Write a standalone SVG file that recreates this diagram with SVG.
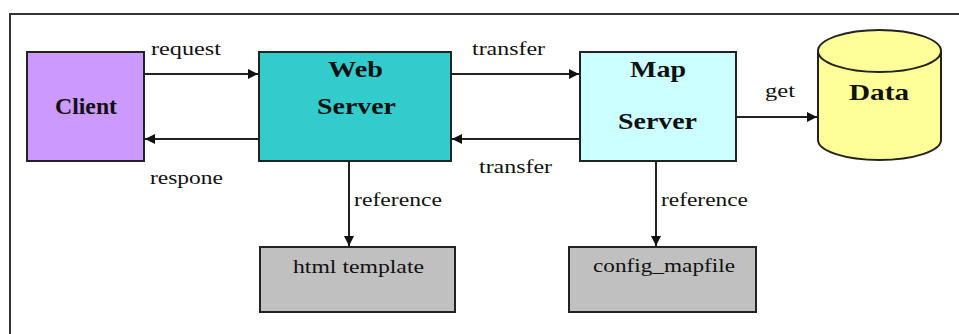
<svg xmlns="http://www.w3.org/2000/svg" width="959" height="334" viewBox="0 0 959 334">
<style>
.box{stroke:#222;stroke-width:2}
.lbl{font-family:"Liberation Serif","DejaVu Serif",serif;font-size:18px;fill:#111}
.title{font-family:"Liberation Serif","DejaVu Serif",serif;font-size:24px;font-weight:bold;fill:#111}
.edge{stroke:#222;stroke-width:2;fill:none}
</style>
<defs>
<marker id="arr" viewBox="0 0 10 10" refX="10" refY="5" markerWidth="10" markerHeight="10" markerUnits="userSpaceOnUse" orient="auto">
<path d="M0,0 L10,5 L0,10 z" fill="#111"/>
</marker>
</defs>
<rect width="959" height="334" fill="#fff"/>
<path d="M10,340 L10,14 L965,14" stroke="#333" stroke-width="2" fill="none"/>
<g id="client">
<rect class="box" x="27" y="52" width="117" height="109" fill="#CC99FF"/>
<text class="title" x="55" y="114" textLength="62" lengthAdjust="spacingAndGlyphs">Client</text>
</g>
<g id="webserver">
<rect class="box" x="259" y="52" width="192" height="109" fill="#33CCCC"/>
<text class="title" x="328" y="77" textLength="55" lengthAdjust="spacingAndGlyphs">Web</text>
<text class="title" x="317" y="114" textLength="79" lengthAdjust="spacingAndGlyphs">Server</text>
</g>
<g id="mapserver">
<rect class="box" x="580" y="52" width="156" height="109" fill="#CCFFFF"/>
<text class="title" x="630" y="77" textLength="56" lengthAdjust="spacingAndGlyphs">Map</text>
<text class="title" x="618" y="129" textLength="79" lengthAdjust="spacingAndGlyphs">Server</text>
</g>
<g id="data">
<path class="box" d="M818,51 L818,140 A61.5,20 0 0 0 941,140 L941,51 A61.5,21 0 0 0 818,51 Z" fill="#FFFF99"/>
<path class="box" d="M818,51 A61.5,21 0 0 0 941,51" fill="none" stroke-width="1.5"/>
<text class="title" x="849" y="100" textLength="60" lengthAdjust="spacingAndGlyphs">Data</text>
</g>
<g id="htmltemplate">
<rect class="box" x="260" y="247" width="195" height="65" fill="#C0C0C0"/>
<text class="lbl" x="293" y="273" textLength="131" lengthAdjust="spacingAndGlyphs">html template</text>
</g>
<g id="configmapfile">
<rect class="box" x="569" y="247" width="187" height="65" fill="#C0C0C0"/>
<text class="lbl" x="593" y="272" textLength="142" lengthAdjust="spacingAndGlyphs">config_mapfile</text>
</g>
<g id="connectors">
<line class="edge" x1="145" y1="74" x2="258" y2="74" marker-end="url(#arr)"/>
<line class="edge" x1="258" y1="139" x2="145" y2="139" marker-end="url(#arr)"/>
<line class="edge" x1="452" y1="74" x2="579" y2="74" marker-end="url(#arr)"/>
<line class="edge" x1="579" y1="139" x2="452" y2="139" marker-end="url(#arr)"/>
<line class="edge" x1="737" y1="117" x2="817" y2="117" marker-end="url(#arr)"/>
<line class="edge" x1="349" y1="162" x2="349" y2="246" marker-end="url(#arr)"/>
<line class="edge" x1="656" y1="162" x2="656" y2="246" marker-end="url(#arr)"/>
<text class="lbl" x="151" y="55" textLength="70" lengthAdjust="spacingAndGlyphs">request</text>
<text class="lbl" x="150" y="184" textLength="73" lengthAdjust="spacingAndGlyphs">respone</text>
<text class="lbl" x="472" y="55" textLength="73" lengthAdjust="spacingAndGlyphs">transfer</text>
<text class="lbl" x="479" y="173" textLength="73" lengthAdjust="spacingAndGlyphs">transfer</text>
<text class="lbl" x="765" y="97" textLength="30" lengthAdjust="spacingAndGlyphs">get</text>
<text class="lbl" x="354" y="206" textLength="88" lengthAdjust="spacingAndGlyphs">reference</text>
<text class="lbl" x="661" y="206" textLength="87" lengthAdjust="spacingAndGlyphs">reference</text>
</g>
</svg>
